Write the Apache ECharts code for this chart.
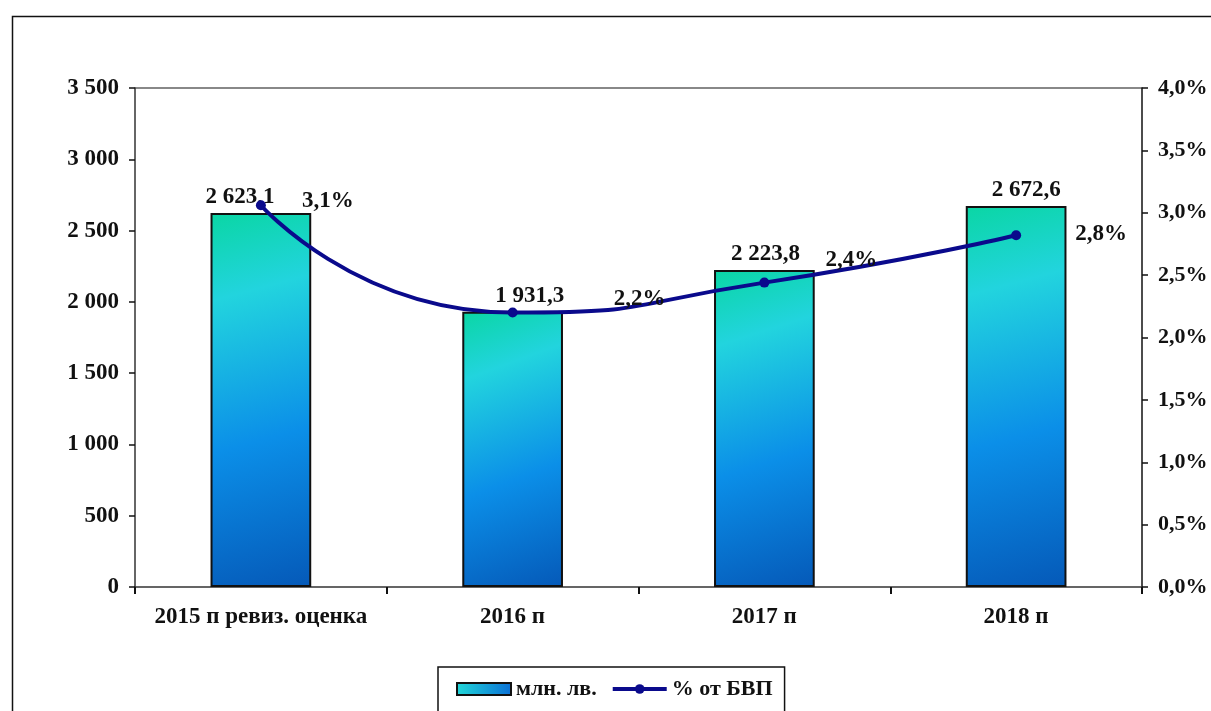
<!DOCTYPE html>
<html><head><meta charset="utf-8">
<script src="https://cdn.jsdelivr.net/npm/echarts@6/dist/echarts.min.js"></script>
<style>html,body{margin:0;padding:0;background:#fff}#c{width:1211px;height:711px}</style>
</head><body><div id="c"></div>
<script>
const categories = ['2015 п ревиз. оценка', '2016 п', '2017 п', '2018 п'];
const amounts = [2623.1, 1931.3, 2223.8, 2672.6];
const gdpShare = [3.06, 2.2, 2.44, 2.82];
const leftTicks = [0, 500, 1000, 1500, 2000, 2500, 3000, 3500];
const rightTicks = [0, 0.5, 1, 1.5, 2, 2.5, 3, 3.5, 4];
const seriesNames = ['млн. лв.', '% от БВП'];

const barLabelOffsets = [[-21, 0], [17, 0], [1, 0], [10, 0]];
const lineLabelOffsets = [[67, -4], [127, -13], [87, -23], [85, -1]];

const FONT = '"Liberation Serif", "Times New Roman", serif';
const FS = 23;
const fmtThousands = v => {
  const s = Math.round(v).toString();
  return s.replace(/\B(?=(\d{3})+(?!\d))/g, ' ');
};
const fmtAmount = v => {
  const parts = v.toFixed(1).split('.');
  return parts[0].replace(/\B(?=(\d{3})+(?!\d))/g, ' ') + ',' + parts[1];
};

const barGrad = new echarts.graphic.LinearGradient(0, 0, 1, 1, [
  {offset: 0, color: '#0ad6a4'},
  {offset: 0.22, color: '#22d4de'},
  {offset: 0.6, color: '#0b8fe8'},
  {offset: 1, color: '#0559b8'}
]);
const legendGrad = new echarts.graphic.LinearGradient(0, 0, 1, 0, [
  {offset: 0, color: '#22d8d8'},
  {offset: 1, color: '#0a6fd6'}
]);

const chart = echarts.init(document.getElementById('c'));
chart.setOption({
  animation: false,
  backgroundColor: '#fff',
  graphic: [{
    type: 'rect', silent: true, z: -1,
    shape: {x: 12.5, y: 16.5, width: 1300, height: 800},
    style: {fill: 'none', stroke: '#111', lineWidth: 1.5}
  }, {
    type: 'line', silent: true,
    shape: {x1: 135, y1: 88, x2: 1142, y2: 88},
    style: {stroke: '#888', lineWidth: 2}
  }],
  grid: {left: 135, right: 69, top: 88, bottom: 124, containLabel: false},
  legend: {
    left: 438, top: 667,
    padding: [11, 12, 40, 18],
    borderColor: '#111', borderWidth: 1.5,
    itemGap: 14, itemWidth: 54, itemHeight: 12,
    textStyle: {fontFamily: FONT, fontWeight: 'bold', fontSize: 22, color: '#111'},
    data: [
      {name: seriesNames[0], icon: 'rect', itemStyle: {color: legendGrad, borderColor: '#111', borderWidth: 2}},
      {name: seriesNames[1], lineStyle: {width: 4, color: '#0a0a8c'}}
    ]
  },
  xAxis: {
    type: 'category', data: categories,
    axisLine: {lineStyle: {color: '#333', width: 1.5}},
    axisTick: {show: true, interval: 0, length: 7, lineStyle: {color: '#111', width: 2}},
    axisLabel: {interval: 0, fontFamily: FONT, fontWeight: 'bold', fontSize: FS, color: '#111', margin: 19}
  },
  yAxis: [{
    type: 'value', min: 0, max: 3500, interval: 500,
    axisLine: {show: true, lineStyle: {color: '#333', width: 1.5}},
    axisTick: {show: true, length: 6, lineStyle: {color: '#111', width: 1.5}},
    splitLine: {show: false},
    axisLabel: {fontFamily: FONT, fontWeight: 'bold', fontSize: FS, color: '#111', margin: 16,
      formatter: v => fmtThousands(v)}
  }, {
    type: 'value', min: 0, max: 4, interval: 0.5, position: 'right',
    axisLine: {show: true, lineStyle: {color: '#111', width: 1.5}},
    axisTick: {show: true, length: 6, inside: false, lineStyle: {color: '#111', width: 1.5}},
    splitLine: {show: false},
    axisLabel: {fontFamily: FONT, fontWeight: 'bold', fontSize: 22, color: '#111', margin: 16,
      formatter: v => v.toFixed(1).replace('.', ',') + '%'}
  }],
  series: [{
    name: seriesNames[0], type: 'bar', barWidth: '40%',
    itemStyle: {color: barGrad, borderColor: '#111', borderWidth: 2},
    data: amounts.map((v, i) => ({
      value: v,
      label: {show: true, position: 'top', distance: 4, offset: barLabelOffsets[i],
        fontFamily: FONT, fontWeight: 'bold', fontSize: FS, color: '#111',
        formatter: p => fmtAmount(p.value)}
    }))
  }, {
    name: seriesNames[1], type: 'line', yAxisIndex: 1, smooth: 0.6,
    symbol: 'circle', symbolSize: 10,
    lineStyle: {color: '#0a0a8c', width: 4},
    itemStyle: {color: '#0a0a8c'},
    data: gdpShare.map((v, i) => ({
      value: v,
      label: {show: true, position: 'inside', offset: lineLabelOffsets[i],
        fontFamily: FONT, fontWeight: 'bold', fontSize: FS, color: '#111',
        formatter: p => p.value.toFixed(1).replace('.', ',') + '%'}
    }))
  }]
});
</script></body></html>
